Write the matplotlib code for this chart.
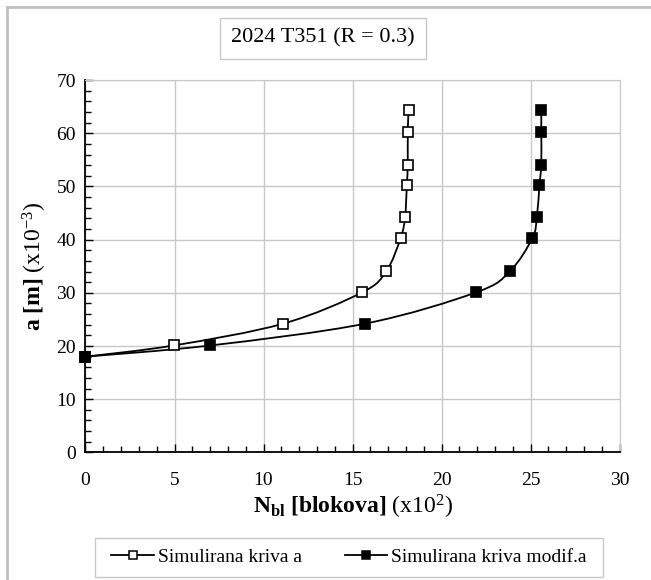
import matplotlib
matplotlib.use('Agg')
import matplotlib.pyplot as plt
from matplotlib.path import Path
from matplotlib.patches import PathPatch, Rectangle
from matplotlib.lines import Line2D
import numpy as np

plt.rcParams['font.family'] = 'Liberation Serif'
plt.rcParams['mathtext.fontset'] = 'custom'
plt.rcParams['mathtext.rm'] = 'Liberation Serif'
plt.rcParams['mathtext.bf'] = 'Liberation Serif:bold'
plt.rcParams['mathtext.it'] = 'Liberation Serif:italic'

# data
n_a = [0.0, 4.95, 11.1, 15.55, 16.9, 17.7, 17.95, 18.05, 18.1, 18.1, 18.15]
a_a = [18.0, 20.1, 24.2, 30.1, 34.1, 40.3, 44.2, 50.3, 54.1, 60.3, 64.3]
n_mod = [0.0, 7.0, 15.7, 21.95, 23.85, 25.1, 25.35, 25.5, 25.6, 25.6, 25.6]
a_mod = [18.0, 20.1, 24.2, 30.1, 34.1, 40.3, 44.2, 50.3, 54.1, 60.3, 64.3]
labels = ['Simulirana kriva a', 'Simulirana kriva modif.a']
title = '2024 T351 (R = 0.3)'


def smooth_path(xs, ys):
    # Excel-like smoothed line as cubic Bezier segments through the points
    p = np.column_stack([xs, ys])
    verts = [p[0]]
    codes = [Path.MOVETO]
    for i in range(len(p) - 1):
        prev = p[i - 1] if i > 0 else p[i]
        nxt = p[i + 2] if i + 2 < len(p) else p[i + 1]
        c1 = p[i] + (p[i + 1] - prev) / 6
        c2 = p[i + 1] - (nxt - p[i]) / 6
        verts += [c1, c2, p[i + 1]]
        codes += [Path.CURVE4] * 3
    return Path(verts, codes)


fig = plt.figure(figsize=(6.51, 5.80), dpi=100)
ax = fig.add_axes([0.1313, 0.22, 0.8205, 0.642])

grid_c = '#c8c8c8'
for n, a, face in [(n_a, a_a, 'white'), (n_mod, a_mod, 'black')]:
    ax.add_patch(PathPatch(smooth_path(n, a), fill=False, lw=1.3, color='black', zorder=3))
    ax.plot(n, a, ls='none', marker='s', ms=7, mfc=face, mec='black', mew=1.2, zorder=4, clip_on=False)

ax.set_xlim(0, 30)
ax.set_ylim(0, 70)
ax.set_xticks(range(0, 31, 5))
ax.set_yticks(range(0, 71, 10))
ax.set_xticks(range(0, 31, 1), minor=True)
ax.set_yticks(range(0, 71, 2), minor=True)
ax.grid(True, which='major', color=grid_c, lw=1)
ax.set_axisbelow(True)
ax.tick_params(which='both', direction='in', labelsize=14, color='black', width=1)
ax.tick_params(which='major', length=6)
ax.tick_params(axis='y', which='major', pad=7)
ax.tick_params(axis='x', which='major', pad=14)
ax.tick_params(which='minor', length=4)
ax.spines['top'].set_color(grid_c)
ax.spines['right'].set_color(grid_c)
ax.spines['left'].set_linewidth(1.3)
ax.spines['bottom'].set_linewidth(1.3)

ax.set_xlabel(r'$\mathbf{N_{bl}\ [blokova]}\ \mathrm{(x10^{2})}$', fontsize=17, labelpad=3)
ax.set_ylabel(r'$\mathbf{a\ [m]}\ \mathrm{(x10^{-3})}$', fontsize=17, labelpad=5)

# title in a box
fig.text(0.496, 0.934, title, ha='center', va='center', fontsize=16,
         bbox=dict(boxstyle='square,pad=0.5', fc='white', ec='#c8c8c8', lw=1))

# legend: frame drawn separately to get Excel's wide padding
fig.add_artist(Rectangle((95 / 651, 1 - 577 / 580), 508 / 651, 39 / 580, transform=fig.transFigure,
                         fill=False, ec='#c8c8c8', lw=1))
handles = [Line2D([], [], color='black', lw=1.3, marker='s', ms=6, mfc='white', mec='black', mew=1.1),
           Line2D([], [], color='black', lw=1.3, marker='s', ms=6, mfc='black', mec='black', mew=1.1)]
fig.legend(handles, labels, loc='center', bbox_to_anchor=(349 / 651, 1 - 557 / 580), ncol=2, fontsize=14,
           frameon=False, handlelength=2.2, handletextpad=0.2, columnspacing=2.2)

# chart area border (left and top visible)
fig.add_artist(Line2D([0.011, 0.011], [0, 0.988], transform=fig.transFigure, color='#c0c0c0', lw=2))
fig.add_artist(Line2D([0.011, 1.0], [0.988, 0.988], transform=fig.transFigure, color='#c0c0c0', lw=2))

fig.savefig('out.png', dpi=100)
